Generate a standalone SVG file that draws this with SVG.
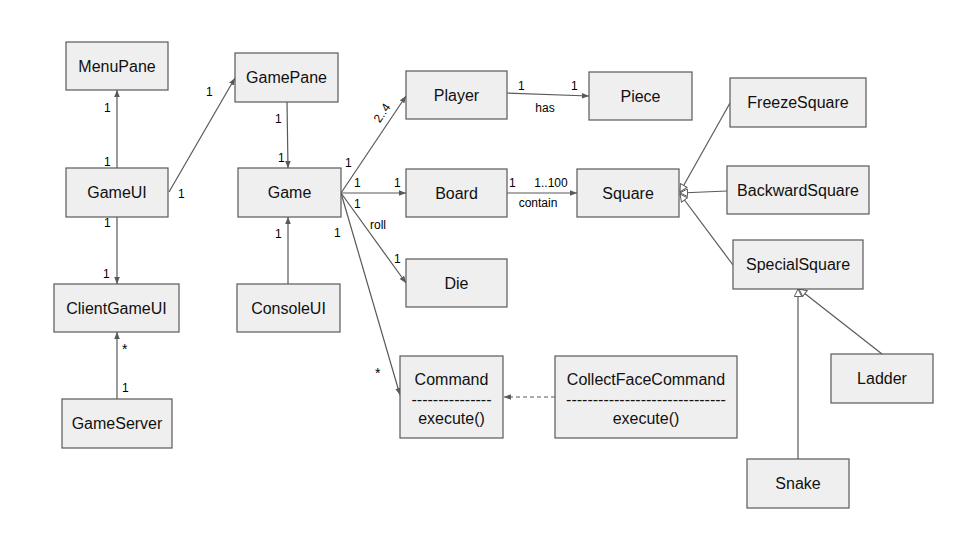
<svg xmlns="http://www.w3.org/2000/svg" width="960" height="540" viewBox="0 0 960 540">
<style>
.box rect{fill:#efefef;stroke:#595959;stroke-width:1.2}
.box text{font-family:"Liberation Sans",Arial,sans-serif;font-size:16px;font-weight:normal;fill:#111;text-anchor:middle}
.lbl{font-family:"Liberation Sans",Arial,sans-serif;font-size:12px;fill:#000}
.c line{stroke:#595959;stroke-width:1.2;fill:none}
.arr{marker-end:url(#a)}
.gen{marker-end:url(#g)}
.dash{stroke-dasharray:4 3}
</style>
<defs>
<marker id="a" viewBox="0 0 10 10" refX="10" refY="5" markerWidth="7" markerHeight="7" markerUnits="userSpaceOnUse" orient="auto">
<path d="M0,1 L10,5 L0,9 z" fill="#595959"/>
</marker>
<marker id="g" viewBox="0 0 12 12" refX="11" refY="6" markerWidth="9" markerHeight="9" markerUnits="userSpaceOnUse" orient="auto">
<path d="M1,1 L11,6 L1,11 z" fill="#fff" stroke="#595959" stroke-width="1.3"/>
</marker>
</defs>
<rect width="960" height="540" fill="#fff"/>
<g class="c" id="connectors">
<line class="arr" x1="117" y1="168" x2="117" y2="90"/>
<line class="arr" x1="169" y1="192" x2="235" y2="78"/>
<line class="arr" x1="287" y1="102" x2="288" y2="168"/>
<line class="arr" x1="117" y1="217" x2="117" y2="284"/>
<line class="arr" x1="117" y1="399" x2="117" y2="332"/>
<line class="arr" x1="288" y1="284" x2="288" y2="217"/>
<line class="arr" x1="341" y1="193" x2="406" y2="96"/>
<line class="arr" x1="341" y1="193" x2="406" y2="193"/>
<line class="arr" x1="341" y1="193" x2="406" y2="283"/>
<line class="arr" x1="341" y1="193" x2="400" y2="395"/>
<line class="arr" x1="507" y1="93" x2="589" y2="96"/>
<line class="arr" x1="507" y1="193" x2="577" y2="193"/>
<line class="arr dash" x1="555" y1="397" x2="504" y2="397"/>
<line class="gen" x1="730" y1="103" x2="680" y2="192"/>
<line class="gen" x1="727" y1="191" x2="680" y2="193"/>
<line class="gen" x1="733" y1="265" x2="680" y2="194"/>
<line class="gen" x1="798" y1="459" x2="798" y2="289"/>
<line class="gen" x1="882" y1="354" x2="799" y2="289"/>
</g>
<g id="labels" class="lbl">
<text x="104" y="112">1</text>
<text x="104" y="166">1</text>
<text x="206" y="96">1</text>
<text x="178" y="198">1</text>
<text x="275" y="123">1</text>
<text x="278" y="162">1</text>
<text x="104" y="227">1</text>
<text x="103" y="278">1</text>
<text x="122" y="354" font-size="14">*</text>
<text x="122" y="392">1</text>
<text x="275" y="238">1</text>
<text x="0" y="0" transform="translate(382,113) rotate(-56)" text-anchor="middle" dominant-baseline="central">2..4</text>
<text x="345" y="167">1</text>
<text x="354" y="187">1</text>
<text x="394" y="187">1</text>
<text x="354" y="208">1</text>
<text x="370" y="229">roll</text>
<text x="394" y="263">1</text>
<text x="334" y="237">1</text>
<text x="375" y="378" font-size="14">*</text>
<text x="518" y="90">1</text>
<text x="571" y="90">1</text>
<text x="545" y="112" text-anchor="middle">has</text>
<text x="509" y="187">1</text>
<text x="551" y="187" text-anchor="middle">1..100</text>
<text x="538" y="207" text-anchor="middle">contain</text>
</g>
<g class="box" id="MenuPane"><rect x="66" y="42" width="102" height="48"/><text x="117" y="72">MenuPane</text></g>
<g class="box" id="GamePane"><rect x="235" y="53" width="103" height="49"/><text x="286.5" y="83">GamePane</text></g>
<g class="box" id="GameUI"><rect x="66" y="168" width="102" height="49"/><text x="117" y="198">GameUI</text></g>
<g class="box" id="Game"><rect x="238" y="168" width="103" height="49"/><text x="289.5" y="198">Game</text></g>
<g class="box" id="ClientGameUI"><rect x="54" y="284" width="125" height="48"/><text x="116.5" y="314">ClientGameUI</text></g>
<g class="box" id="ConsoleUI"><rect x="237" y="284" width="103" height="48"/><text x="288.5" y="314">ConsoleUI</text></g>
<g class="box" id="GameServer"><rect x="62" y="399" width="110" height="49"/><text x="117" y="429">GameServer</text></g>
<g class="box" id="Player"><rect x="406" y="71" width="101" height="48"/><text x="456.5" y="101">Player</text></g>
<g class="box" id="Piece"><rect x="589" y="72" width="103" height="48"/><text x="640.5" y="102">Piece</text></g>
<g class="box" id="Board"><rect x="406" y="169" width="101" height="48"/><text x="456.5" y="199">Board</text></g>
<g class="box" id="Square"><rect x="577" y="169" width="102" height="48"/><text x="628" y="199">Square</text></g>
<g class="box" id="Die"><rect x="406" y="259" width="101" height="48"/><text x="456.5" y="289">Die</text></g>
<g class="box" id="Command"><rect x="400" y="356" width="103" height="82"/><text x="451.5" y="385">Command</text><text x="451.5" y="405">---------------</text><text x="451.5" y="424">execute()</text></g>
<g class="box" id="CollectFaceCommand"><rect x="555" y="356" width="182" height="82"/><text x="646" y="385">CollectFaceCommand</text><text x="646" y="405">------------------------------</text><text x="646" y="424">execute()</text></g>
<g class="box" id="FreezeSquare"><rect x="730" y="78" width="136" height="49"/><text x="798" y="108">FreezeSquare</text></g>
<g class="box" id="BackwardSquare"><rect x="727" y="166" width="142" height="48"/><text x="798" y="196">BackwardSquare</text></g>
<g class="box" id="SpecialSquare"><rect x="733" y="240" width="130" height="49"/><text x="798" y="270">SpecialSquare</text></g>
<g class="box" id="Ladder"><rect x="831" y="354" width="102" height="49"/><text x="882" y="384">Ladder</text></g>
<g class="box" id="Snake"><rect x="747" y="459" width="102" height="49"/><text x="798" y="489">Snake</text></g>
</svg>
